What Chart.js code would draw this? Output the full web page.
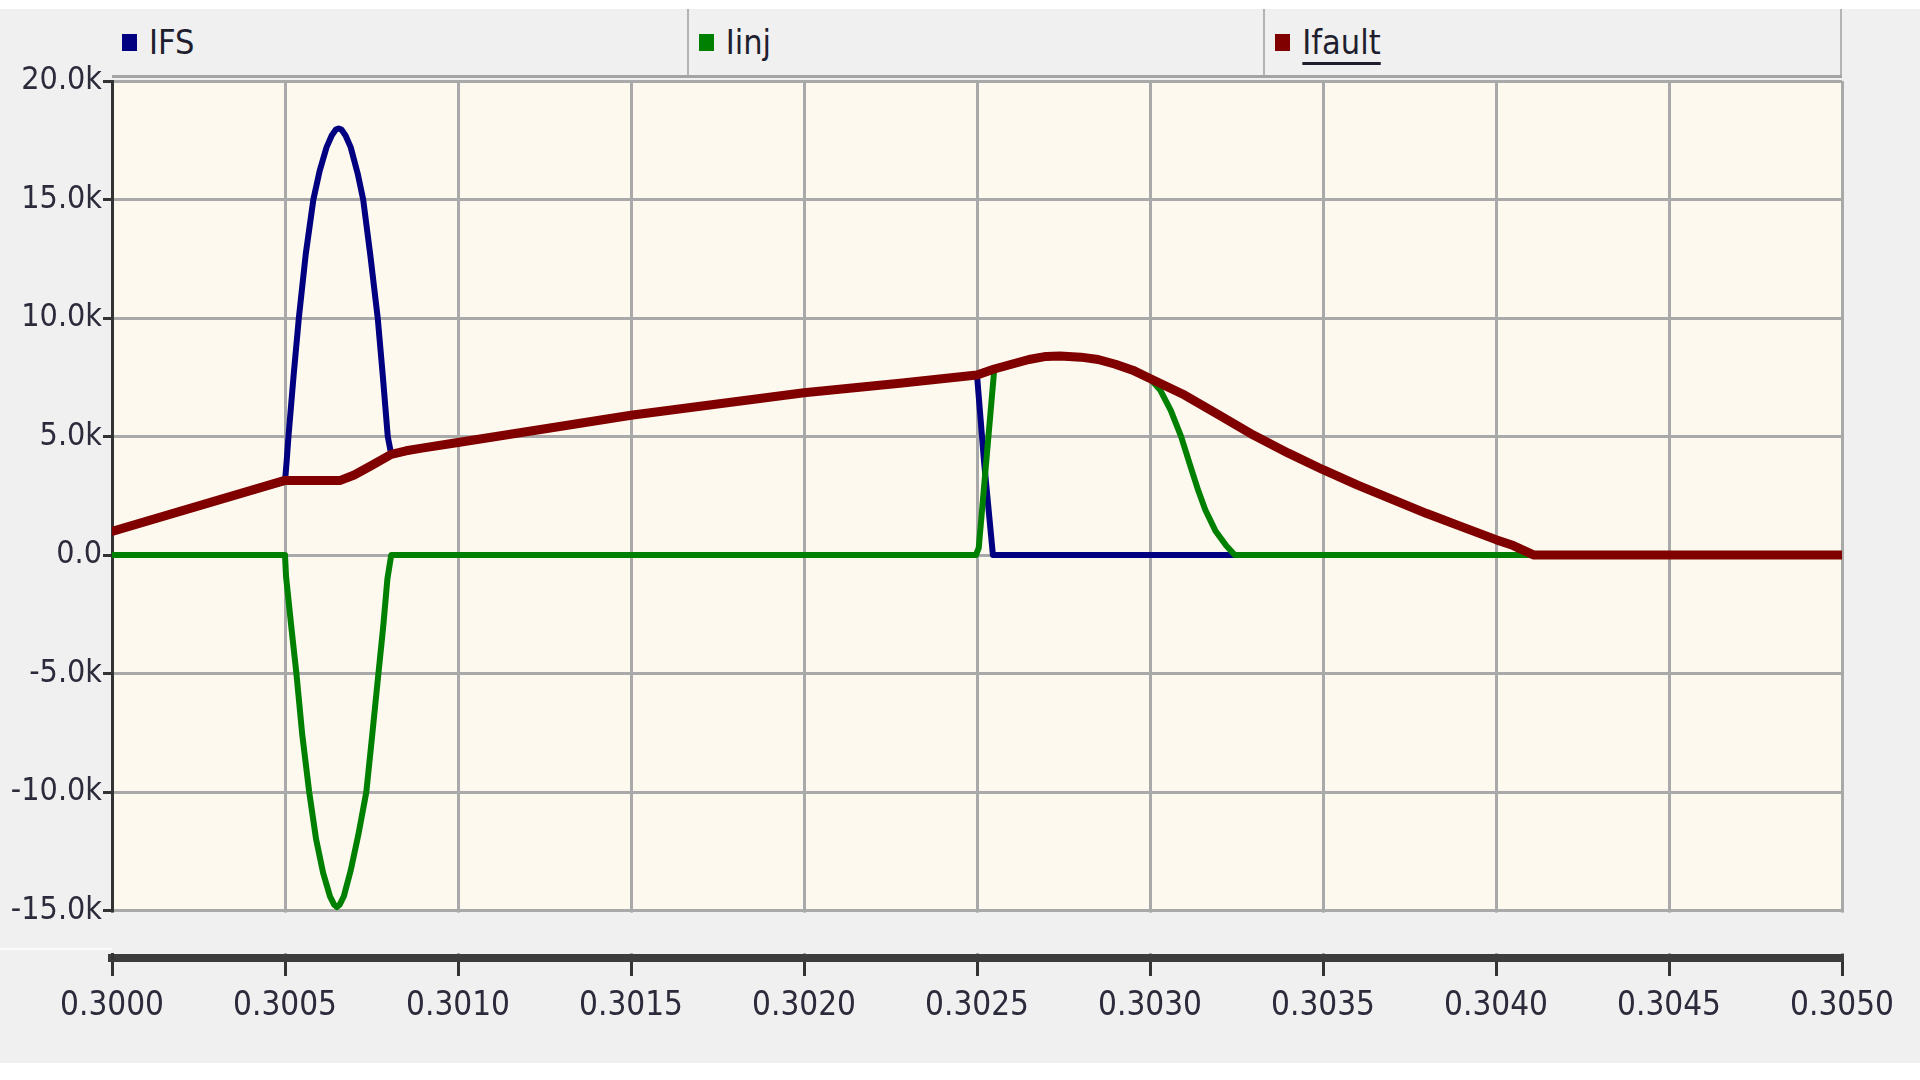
<!DOCTYPE html>
<html>
<head>
<meta charset="utf-8">
<title>IFS / Iinj / Ifault</title>
<script src="https://cdn.jsdelivr.net/npm/chart.js@4.4.1/dist/chart.umd.min.js"></script>
<style>
    body {
        margin: 0;
        width: 1920px;
        height: 1080px;
        background: #f0f0f0;
        position: relative;
        overflow: hidden;
        font-family: 'Liberation Sans Narrow', 'Arial Narrow', 'DejaVu Sans Condensed', 'Liberation Sans', sans-serif;
    }
    #topStrip { position: absolute; left: 0; top: 0; width: 1920px; height: 9px; background: #fff; }
    #bottomStrip { position: absolute; left: 0; top: 1063px; width: 1920px; height: 17px; background: #fff; }
    #legend {
        position: absolute; left: 112px; top: 9px; width: 1730px; height: 66px;
        display: flex; background: #f0f0f0; border-bottom: 3px solid #a4a4a4; z-index: 2;
    }
    .cell {
        flex: 1; display: flex; align-items: center; padding-left: 10px;
        border-right: 2px solid #b4b4b4; box-sizing: border-box;
    }
    .swatch { width: 15px; height: 17px; margin-right: 12px; }
    .label { font-size: 34px; color: #1e1e2e; }
    .label.active { text-decoration: underline; text-decoration-thickness: 3px; text-underline-offset: 8px; }
    #chart { position: absolute; left: 0; top: 0; z-index: 1; }
</style>
</head>
<body>
<div id="topStrip"></div>
<div id="legend"></div>
<canvas id="chart" width="1920" height="1080"></canvas>
<div id="bottomStrip"></div>

<script>
// axis ticks
const timeTicks = [0.3000, 0.3005, 0.3010, 0.3015, 0.3020, 0.3025, 0.3030, 0.3035, 0.3040, 0.3045, 0.3050];
const currentTicks = [-15000, -10000, -5000, 0, 5000, 10000, 15000, 20000];

const seriesNames = ['IFS', 'Iinj', 'Ifault'];

// IFS (under Ifault where the two coincide)
const ifsTime = [0.300000, 0.300500, 0.300505, 0.300510, 0.300525, 0.300540, 0.300560, 0.300582, 0.300600,
    0.300620, 0.300635, 0.300647, 0.300655, 0.300663, 0.300675, 0.300690, 0.300710, 0.300726, 0.300747,
    0.300768, 0.300783, 0.300797, 0.300807, 0.300850, 0.300900, 0.301000, 0.301500, 0.302000, 0.302277,
    0.302500, 0.302520, 0.302546, 0.305000];
const ifsValues = [1000, 3100, 4000, 5000, 7600, 10000, 12700, 15000, 16200,
    17200, 17700, 17950, 18000, 17950, 17700, 17200, 16100, 15000, 12600,
    10000, 7500, 5000, 4250, 4400, 4520, 4750, 5900, 6850, 7250,
    7600, 4000, 0, 0];

// Iinj
const iinjTime = [0.300000, 0.300500, 0.300503, 0.300518, 0.300533, 0.300550, 0.300570, 0.300590, 0.300610,
    0.300630, 0.300642, 0.300650, 0.300658, 0.300670, 0.300690, 0.300712, 0.300735, 0.300752, 0.300770,
    0.300784, 0.300796, 0.300807, 0.302497, 0.302505, 0.302550, 0.302600, 0.302650, 0.302700, 0.302740,
    0.302800, 0.302850, 0.302900, 0.302950, 0.303000, 0.303030, 0.303060, 0.303090, 0.303120, 0.303140,
    0.303160, 0.303190, 0.303220, 0.303245, 0.305000];
const iinjValues = [0, 0, -900, -3000, -5000, -7600, -10000, -12000, -13400,
    -14400, -14750, -14850, -14750, -14400, -13300, -11800, -10000, -7600, -5000,
    -3000, -1000, 0, 0, 300, 7850, 8050, 8250, 8380, 8400,
    8350, 8250, 8050, 7800, 7450, 6950, 6100, 5000, 3600, 2700,
    1900, 1000, 400, 0, 0];

// Ifault
const ifaultTime = [0.300000, 0.300500, 0.300660, 0.300700, 0.300750, 0.300807, 0.300850, 0.300900, 0.301000,
    0.301500, 0.302000, 0.302277, 0.302500, 0.302550, 0.302600, 0.302650, 0.302700, 0.302740, 0.302800,
    0.302850, 0.302900, 0.302950, 0.303000, 0.303100, 0.303200, 0.303300, 0.303400, 0.303500, 0.303600,
    0.303700, 0.303800, 0.303900, 0.304000, 0.304050, 0.304110, 0.305000];
const ifaultValues = [1000, 3150, 3150, 3380, 3780, 4250, 4400, 4520, 4750,
    5900, 6850, 7250, 7600, 7850, 8050, 8250, 8380, 8400, 8350,
    8250, 8050, 7800, 7450, 6750, 5900, 5050, 4300, 3600, 2950,
    2350, 1750, 1200, 650, 400, 0, 0];

const toPoints = (t, v) => t.map((x, i) => ({ x: x, y: v[i] }));

// order: Ifault drawn on top, then Iinj, then IFS
const datasets = [
    { label: seriesNames[0], data: toPoints(ifsTime, ifsValues), borderColor: '#000080', backgroundColor: '#000080', borderWidth: 6, order: 3 },
    { label: seriesNames[1], data: toPoints(iinjTime, iinjValues), borderColor: '#008000', backgroundColor: '#008000', borderWidth: 6, order: 2 },
    { label: seriesNames[2], data: toPoints(ifaultTime, ifaultValues), borderColor: '#800000', backgroundColor: '#800000', borderWidth: 9, order: 1 }
];

// legend bar across the top
const legend = document.getElementById('legend');
datasets.forEach((ds, i) => {
    const cell = document.createElement('div');
    cell.className = 'cell';
    cell.innerHTML = `<span class="swatch" style="background:${ds.borderColor}"></span>` +
        `<span class="label${i === 2 ? ' active' : ''}">${ds.label}</span>`;
    legend.appendChild(cell);
});

// cream plot area, grey gap above the time axis
const plotBackground = {
    id: 'plotBackground',
    beforeDraw(chart) {
        const { ctx, chartArea: a, scales: { y } } = chart;
        const bottom = y.getPixelForValue(currentTicks[0]);
        ctx.save();
        ctx.fillStyle = '#fdf9ef';
        ctx.fillRect(a.left, a.top, a.right - a.left, bottom - a.top);
        ctx.restore();
    },
    beforeDatasetsDraw(chart) {
        const { ctx, chartArea: a, scales: { y } } = chart;
        const top = y.getPixelForValue(currentTicks[0]) + 2;
        ctx.save();
        ctx.fillStyle = '#f0f0f0';
        ctx.fillRect(a.left - 5, top, a.right - a.left + 10, a.bottom - 5 - top);
        ctx.fillStyle = '#fbfbfb';
        ctx.fillRect(0, a.bottom - 10, a.left, 2);
        ctx.restore();
    }
};

const tickFont = { family: "'Liberation Sans Narrow', 'Arial Narrow', 'DejaVu Sans Condensed', 'Liberation Sans', sans-serif" };

new Chart(document.getElementById('chart'), {
    type: 'line',
    data: { datasets: datasets },
    plugins: [plotBackground],
    options: {
        responsive: false,
        animation: false,
        devicePixelRatio: 1,
        layout: { padding: { left: 0, top: 81, right: 78, bottom: 0 } },
        plugins: { legend: { display: false }, tooltip: { enabled: false } },
        elements: {
            point: { radius: 0 },
            line: { tension: 0, borderCapStyle: 'round', borderJoinStyle: 'round' }
        },
        scales: {
            x: {
                type: 'linear',
                min: timeTicks[0],
                max: timeTicks[timeTicks.length - 1],
                afterBuildTicks: s => { s.ticks = timeTicks.map(v => ({ value: v })); },
                afterFit: s => { s.height = 122; },
                grid: { color: '#a9a9a9', lineWidth: 3, tickColor: '#333', tickLength: 18, tickWidth: 3 },
                border: { color: '#3c3c3c', width: 8 },
                ticks: {
                    callback: v => v.toFixed(4),
                    font: Object.assign({ size: 33 }, tickFont),
                    color: '#2b2b3b',
                    padding: 11,
                    maxRotation: 0,
                    autoSkip: false
                }
            },
            y: {
                min: -17000,
                max: currentTicks[currentTicks.length - 1],
                afterBuildTicks: s => { s.ticks = currentTicks.map(v => ({ value: v })); },
                afterFit: s => { s.width = 112; },
                grid: { color: '#a9a9a9', lineWidth: 3, tickColor: '#333', tickLength: 9, tickWidth: 3 },
                border: { color: '#333', width: 3 },
                ticks: {
                    callback: v => v === 0 ? '0.0' : (v / 1000).toFixed(1) + 'k',
                    font: Object.assign({ size: 32 }, tickFont),
                    color: '#2b2b3b',
                    padding: 1,
                    autoSkip: false
                }
            }
        }
    }
});
</script>
</body>
</html>
